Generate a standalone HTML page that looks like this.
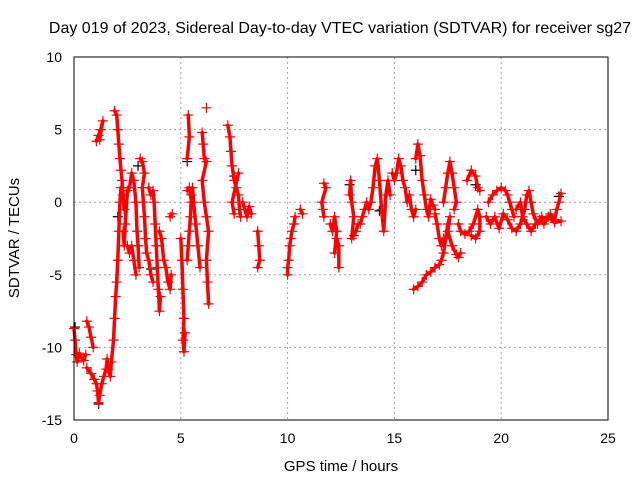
<!DOCTYPE html>
<html><head><meta charset="utf-8">
<style>
html,body{margin:0;padding:0;background:#fff;}
svg{display:block;font-family:"Liberation Sans",Arial,sans-serif;}
</style></head>
<body>
<svg id="chart" width="640" height="480" viewBox="0 0 640 480" xmlns="http://www.w3.org/2000/svg">
<rect x="0" y="0" width="640" height="480" fill="#fff"/>
<text x="340" y="33" font-size="16" text-anchor="middle">Day 019 of 2023, Sidereal Day-to-day VTEC variation (SDTVAR) for receiver sg27</text>
<g id="grid"></g>
<g id="ticks"></g>
<g id="marks"></g>
<rect x="74" y="57" width="534" height="363" fill="none" stroke="#000" stroke-width="1"/>
<text x="341" y="471" font-size="15" text-anchor="middle">GPS time / hours</text>
<text transform="translate(19,238) rotate(-90)" font-size="15" text-anchor="middle">SDTVAR / TECUs</text>
</svg>
<script>
const xTicks = [0,5,10,15,20,25];
const yTicks = [-15,-10,-5,0,5,10];
const tracks = [
 [[0,-8.7],[0.05,-9.5],[0.1,-10.5],[0.15,-11],[0.25,-10.4],[0.35,-10.7],[0.45,-10.9],[0.55,-10.5]],
 [[0.6,-8.2],[0.7,-8.6],[0.8,-9.3],[0.9,-10]],
 [[0.6,-11.4],[0.8,-11.8],[0.95,-12.2],[1.05,-12.5],[1.1,-13],[1.15,-13.8],[1.2,-13.3],[1.3,-12.5],[1.4,-12],[1.5,-11.5],[1.55,-10.8],[1.6,-11.5],[1.7,-12],[1.75,-11],[1.85,-9.5],[1.9,-8],[1.95,-6.5],[2.0,-5.5],[2.05,-4],[2.1,-2],[2.15,0],[2.2,1]],
 [[1.05,4.2],[1.15,4.6],[1.25,5],[1.35,5.6],[1.2,4.3]],
 [[1.9,6.3],[2.0,6],[2.05,5],[2.1,4],[2.15,3],[2.2,2.2],[2.25,1.5],[2.3,0.5],[2.35,-0.5]],
 [[2.3,-2],[2.35,-3],[2.4,-1.5],[2.5,0.8],[2.6,1],[2.7,2],[2.8,1.5],[2.9,0],[2.95,-2],[3.0,-3],[3.05,-4.5]],
 [[2.5,-3],[2.6,-3.5],[2.7,-3],[2.8,-4],[2.9,-5]],
 [[3.1,3],[3.2,2.8],[3.3,2],[3.2,1],[3.25,0],[3.3,-1],[3.35,-2.5],[3.4,-3.5],[3.5,-4],[3.6,-5],[3.7,-5.5]],
 [[3.5,1],[3.6,0.5],[3.7,0.8],[3.75,0],[3.8,-1.5],[3.85,-3],[3.9,-4.5],[3.95,-6],[4.0,-7.5],[4.05,-6.5]],
 [[4.0,-2],[4.1,-2.5],[4.2,-4],[4.3,-4.5],[4.4,-5.5],[4.5,-6],[4.55,-5]],
 [[4.5,-1],[4.6,-0.8]],
 [[5.0,-2.5],[5.05,-4],[5.1,-6],[5.15,-8],[5.1,-9.5],[5.15,-10.3],[5.2,-9]],
 [[5.3,-4],[5.35,-3],[5.4,-2],[5.45,-1],[5.5,0.5],[5.55,1],[5.6,0],[5.7,-1.5],[5.8,-3],[5.9,-4.5]],
 [[5.3,0.8],[5.4,1],[5.5,0]],
 [[5.3,3],[5.4,4.5],[5.35,6]],
 [[6.0,4.8],[6.05,4],[6.1,3],[6.2,2.8],[6.0,1.5],[6.1,0],[6.2,-1],[6.3,-2],[6.2,-4],[6.25,-5.5],[6.3,-7]],
 [[6.2,6.5]],
 [[7.2,5.3],[7.3,4.5],[7.35,3.5],[7.4,2.5],[7.5,1.5],[7.6,1],[7.7,0.5],[7.75,-0.5],[7.8,-1]],
 [[7.7,2],[7.4,0],[7.5,-0.8]],
 [[7.9,0],[8.0,-0.5],[8.1,-1],[8.2,-0.3],[8.3,-0.8]],
 [[8.6,-2],[8.65,-3],[8.7,-4],[8.6,-4.5]],
 [[10.0,-5],[10.0,-4.5],[10.05,-4],[10.1,-3],[10.15,-2.5],[10.2,-2],[10.3,-1.5],[10.35,-1]],
 [[10.6,-0.5],[10.7,-0.8]],
 [[11.7,1.3],[11.8,1],[11.6,0],[11.65,-0.5],[11.7,-1]],
 [[12.0,-1.5],[12.1,-2],[12.2,-1],[12.3,-2],[12.2,-3.5],[12.3,-2.5],[12.4,-3],[12.4,-4.5]],
 [[12.9,0.5],[12.95,1.5],[13.0,0],[13.1,-1],[13.0,-2.5],[13.1,-2.3],[13.2,-2],[13.3,-1.5]],
 [[13.4,-1.5],[13.5,-1],[13.6,-0.5],[13.7,0],[13.8,-0.5],[13.9,0],[14.0,1],[14.1,2.5],[14.2,3],[14.3,1.5],[14.4,-0.5],[14.5,-2],[14.6,0.5],[14.7,1.5],[14.8,0.5]],
 [[14.9,2],[15.0,1.5],[15.1,2],[15.2,3],[15.3,2.5],[15.4,1.5],[15.5,1],[15.6,0],[15.7,0.5],[15.8,-0.5],[15.9,-1],[16.0,-0.5]],
 [[16.0,3],[16.1,4],[16.2,3.2],[16.3,1.5],[16.4,0.5],[16.5,-0.5],[16.6,-1],[16.7,0.2],[16.8,-0.2],[16.9,-0.5]],
 [[16.9,-0.8],[17.0,-1.5],[17.1,-2.5],[17.2,-3],[17.3,-2.5]],
 [[15.9,-6],[16.1,-5.8],[16.3,-5.5],[16.5,-5],[16.7,-4.8],[16.9,-4.5],[17.1,-4.3],[17.2,-4],[17.3,-3.5],[17.4,-2.5],[17.5,-1.5],[17.6,-1],[17.5,-2],[17.7,-3],[17.9,-3.6],[18.0,-3.8],[18.1,-3.5]],
 [[17.3,0],[17.4,1],[17.5,2],[17.6,2.8],[17.7,2],[17.8,1],[17.9,0],[17.8,-0.5]],
 [[18.0,-1.5],[18.1,-2],[18.3,-2.2],[18.5,-2],[18.7,-1.5],[18.9,-0.5],[19.0,-1],[19.0,-2],[18.8,-2.5],[18.6,-2.3]],
 [[18.4,1.5],[18.6,2.2],[18.8,1.8],[18.9,1],[19.0,0.8]],
 [[19.4,0],[19.6,0.5],[19.8,0.8],[20.0,1],[20.2,0.8],[20.3,0.5],[20.4,0],[20.5,-0.5],[20.6,-1]],
 [[19.3,-1],[19.5,-1.5],[19.7,-1],[19.9,-1.8],[20.1,-0.8],[20.3,-1.2],[20.5,-1.8],[20.7,-2],[20.9,-1.5],[21.1,-0.5],[21.2,0.5],[21.3,0.8],[21.4,0],[21.5,-0.8],[21.7,-1.5],[21.9,-1],[22.1,-1.2],[22.3,-0.8],[22.5,-1.2],[22.6,-0.5],[22.7,0],[22.8,0.6]],
 [[20.7,-0.5],[20.9,0],[21.0,-1],[21.2,-1.5],[21.4,-2],[21.6,-1.5],[21.8,-1.2],[22.0,-1.5],[22.2,-1],[22.5,-1.4],[22.8,-1.3]]
];
const blackPoints = [[0.05,-8.6],[1.15,-13.9],[2.05,-1],[3.0,2.5],[3.6,-4.6],[5.3,2.8],[7.5,1.8],[12.9,1.2],[14.3,-0.6],[16.0,2.2],[18.8,1.2],[22.7,0.4]];

const NS = 'http://www.w3.org/2000/svg';
const X0 = 74, X1 = 608, Y0 = 420, Y1 = 57;
function sx(t){ return X0 + (t - 0) / 25 * (X1 - X0); }
function sy(v){ return Y0 - (v + 15) / 25 * (Y0 - Y1); }

const grid = document.getElementById('grid');
const ticks = document.getElementById('ticks');
xTicks.forEach(t => {
  const x = sx(t);
  if (t > 0 && t < 25) {
    const g = document.createElementNS(NS, 'line');
    
    
    g.setAttribute('x1', x); g.setAttribute('x2', x); g.setAttribute('y1', Y1); g.setAttribute('y2', Y0);
    g.setAttribute('stroke', '#a0a0a0'); g.setAttribute('stroke-dasharray', '2,3');
    grid.appendChild(g);
  }
  const lb = document.createElementNS(NS, 'text');
  
  
  lb.setAttribute('x', x); lb.setAttribute('y', 443); lb.setAttribute('font-size', '14'); lb.setAttribute('text-anchor', 'middle');
  lb.textContent = t;
  ticks.appendChild(lb);
});
yTicks.forEach(v => {
  const y = sy(v);
  if (v > -15 && v < 10) {
    const g = document.createElementNS(NS, 'line');
    
    
    g.setAttribute('x1', X0); g.setAttribute('x2', X1); g.setAttribute('y1', y); g.setAttribute('y2', y);
    g.setAttribute('stroke', '#a0a0a0'); g.setAttribute('stroke-dasharray', '2,3');
    grid.appendChild(g);
  }
  const lb = document.createElementNS(NS, 'text');
  
  
  lb.setAttribute('x', 62); lb.setAttribute('y', y + 5); lb.setAttribute('font-size', '14'); lb.setAttribute('text-anchor', 'end');
  lb.textContent = v;
  ticks.appendChild(lb);
});

const marks = document.getElementById('marks');
function plus(t, v, color, name) {
  const x = sx(t), y = sy(v);
  const p = document.createElementNS(NS, 'path');
  
  
  p.setAttribute('d', 'M' + (x - 5) + ' ' + y + 'H' + (x + 5) + 'M' + x + ' ' + (y - 5) + 'V' + (y + 5));
  p.setAttribute('stroke', color); p.setAttribute('stroke-width', '1.2'); p.setAttribute('fill', 'none');
  marks.appendChild(p);
}
blackPoints.forEach(p => plus(p[0], p[1], '#000', 'black-point'));
tracks.forEach(tr => {
  if (tr.length > 1) {
    const pl = document.createElementNS(NS, 'polyline');
    
    
    pl.setAttribute('points', tr.map(p => sx(p[0]) + ',' + sy(p[1])).join(' '));
    pl.setAttribute('fill', 'none'); pl.setAttribute('stroke', '#ff0000');
    pl.setAttribute('stroke-width', '3.5'); pl.setAttribute('stroke-linejoin', 'round'); pl.setAttribute('stroke-linecap', 'round');
    marks.appendChild(pl);
  }
  tr.forEach(p => plus(p[0], p[1], '#ff0000', 'sdtvar-point'));
});
</script>
</body></html>
